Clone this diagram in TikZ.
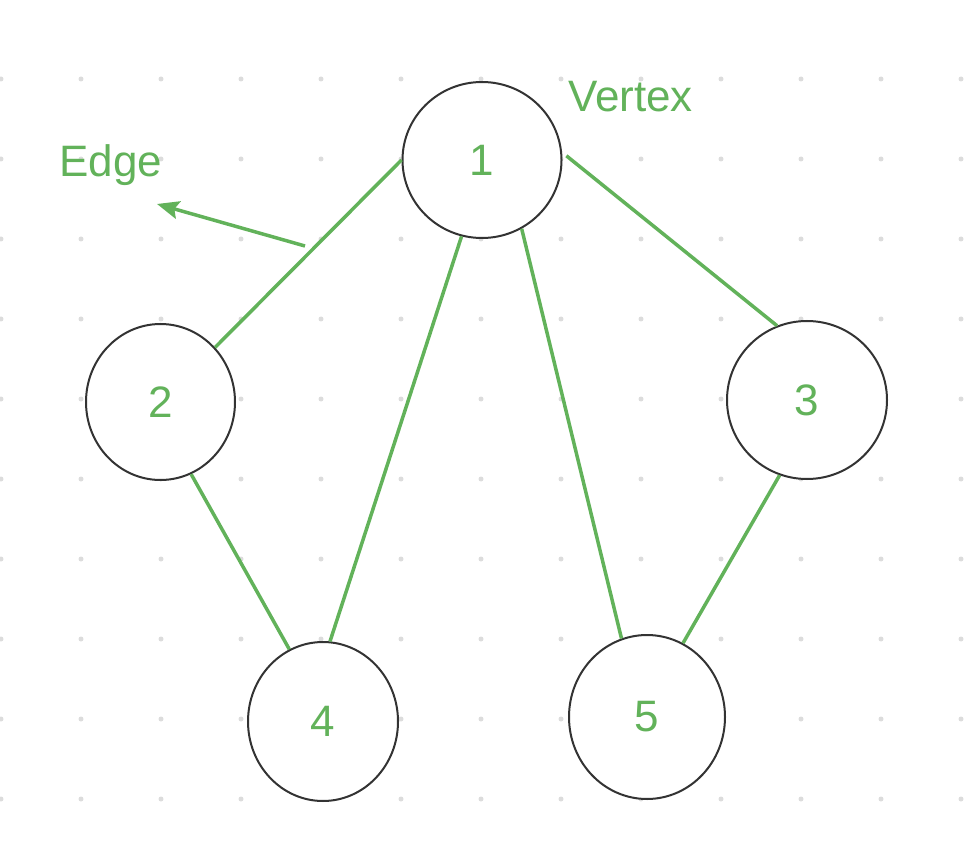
\documentclass[tikz,border=0pt]{standalone}
\usepackage{fontspec}
\setmainfont{Liberation Sans}
\usetikzlibrary{shapes.geometric, arrows.meta}
\definecolor{edgegreen}{RGB}{98,178,90}
\definecolor{griddot}{RGB}{220,220,220}

\begin{document}
\begin{tikzpicture}[x=1pt,y=-1pt,
  vertex/.style={draw=black!80,fill=white,line width=2pt,shape=ellipse,inner sep=0pt,text=edgegreen,font=\fontsize{44}{52}\selectfont},
  tag/.style={text=edgegreen,font=\fontsize{44}{52}\selectfont,inner sep=0pt,anchor=base west},
  link/.style={draw=edgegreen,line width=3.5pt}]
  \useasboundingbox (0,0) rectangle (966,866);
  \foreach \i in {0,...,12} \foreach \j in {0,...,9}
    \fill[griddot] (1+80*\i,79+80*\j) circle (2.5pt);
  \path (482,160) node[vertex,minimum width=159pt,minimum height=156pt] (v1) {1}
  (160.5,402) node[vertex,minimum width=149pt,minimum height=156pt] (v2) {2}
  (807,400) node[vertex,minimum width=160pt,minimum height=158pt] (v3) {3}
  (323,721.5) node[vertex,minimum width=150pt,minimum height=159pt] (v4) {4}
  (647,717) node[vertex,minimum width=156pt,minimum height=164pt] (v5) {5};
  \draw[link] (v1.west) -- (v2.45);
  \draw[link] (v1.-105) -- (v4.85);
  \draw[link] (v1.-60) -- (v5.108);
  \draw[link] ([xshift=4pt]v1.3) -- (v3.112);
  \draw[link] (v2.-67) -- (v4.115);
  \draw[link] (v3.-110) -- (v5.64);
  \coordinate (edgetail) at (305,246);
  \coordinate (edgetip) at (157,204);
  \draw[link,-{Stealth[length=22pt,width=18pt,inset=4pt]}] (edgetail) -- (edgetip);
  \node[tag] (edgetext) at (59,177) {Edge};
  \node[tag] (vertextext) at (568,112) {Vertex};
\end{tikzpicture}
\end{document}
